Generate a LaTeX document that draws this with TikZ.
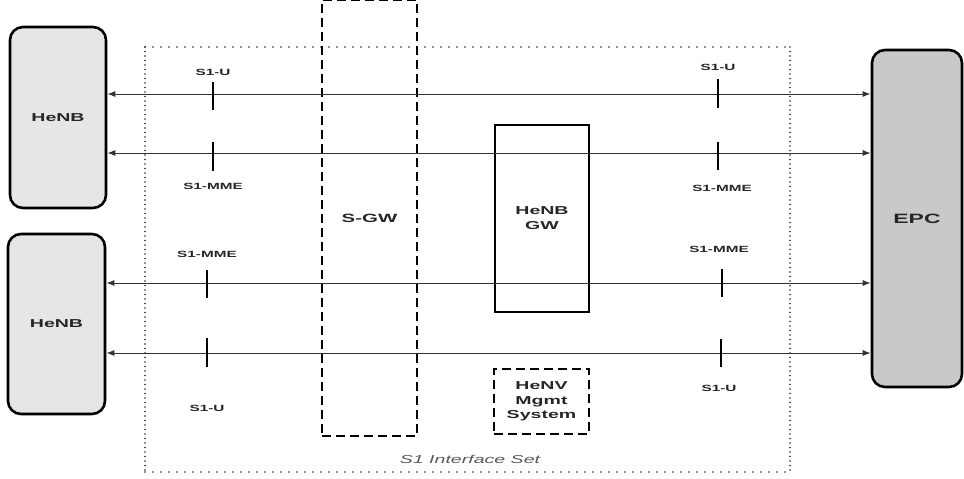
\documentclass[tikz,border=0pt]{standalone}
\usepackage{fontspec}
\setmainfont[FakeStretch=1.7]{Liberation Sans}
\usetikzlibrary{arrows.meta}
\definecolor{boxfillA}{HTML}{E6E6E6}
\definecolor{boxfillB}{HTML}{C9C9C9}
\definecolor{linegray}{HTML}{333333}
\begin{document}
\begin{tikzpicture}[x=1pt,y=-1pt,
  endbox/.style={draw=black,line width=2.6pt,rounded corners=13pt,inner sep=0pt,font=\fontsize{11.5}{12}\selectfont\bfseries,text=black!85},
  dashbox/.style={draw=black,line width=1.8pt,dash pattern=on 9pt off 5pt,inner sep=0pt,align=center,text=black!85},
  solidbox/.style={draw=black,line width=1.4pt,inner sep=0pt,align=center,text=black!85},
  link/.style={draw=linegray,line width=1pt,{Latex[length=8pt,width=6pt]}-{Latex[length=8pt,width=6pt]}},
  tick/.style={draw=black,line width=1.2pt},
  lbl/.style={font=\fontsize{9}{10}\selectfont\bfseries,inner sep=0pt,text=black!85},
  dotline/.style={black!85,line width=1.8pt,line cap=round}
]
\useasboundingbox (0,0) rectangle (964,479);
% dotted interface set
\coordinate (s1nw) at (145,47);
\coordinate (s1se) at (790,472);
\draw[dotline,dash pattern=on 0pt off 8pt] (s1nw) -- (s1nw -| s1se);
\draw[dotline,dash pattern=on 0pt off 8pt] (s1nw |- s1se) -- (s1se);
\draw[dotline,dash pattern=on 0pt off 4.5pt] (s1nw) -- (s1nw |- s1se);
\draw[dotline,dash pattern=on 0pt off 4.5pt] (s1nw -| s1se) -- (s1se);
\node[font=\fontsize{11.5}{12}\selectfont\itshape,text=black!65] (s1txt) at (470,459) {S1 Interface Set};

% end boxes
\node[endbox,fill=boxfillA,minimum width=96pt,minimum height=181pt] (henb1) at (58,117.5) {HeNB};
\node[endbox,fill=boxfillA,minimum width=97pt,minimum height=180pt] (henb2) at (56.5,324) {HeNB};
\node[endbox,fill=boxfillB,minimum width=90pt,minimum height=337pt,font=\fontsize{13.5}{16}\selectfont\bfseries] (epc) at (917,218.5) {EPC};

% middle boxes
\node[dashbox,minimum width=95pt,minimum height=436pt,font=\fontsize{12}{15}\selectfont\bfseries] (sgw) at (369.5,218) {S-GW};
\node[solidbox,minimum width=94pt,minimum height=187pt,font=\fontsize{11.5}{15}\selectfont\bfseries] (hgw) at (542,218.5) {HeNB\\GW};
\node[dashbox,minimum width=95pt,minimum height=65pt,font=\fontsize{11.5}{14.5}\selectfont\bfseries] (mgmt) at (541.5,401.5) {HeNV\\Mgmt\\System};

% links
\coordinate (y1) at (0,94);
\coordinate (y2) at (0,153);
\coordinate (y3) at (0,283);
\coordinate (y4) at (0,353);
\draw[link] (henb1.east |- y1) -- (epc.west |- y1);
\draw[link] (henb1.east |- y2) -- (epc.west |- y2);
\draw[link] (henb2.east |- y3) -- (epc.west |- y3);
\draw[link] (henb2.east |- y4) -- (epc.west |- y4);

% ticks left
\draw[tick] (213,82) -- (213,110);
\draw[tick] (213,142) -- (213,171);
\draw[tick] (207,270) -- (207,298);
\draw[tick] (207,338) -- (207,367);
% ticks right
\draw[tick] (718,79) -- (718,108);
\draw[tick] (718,142) -- (718,170);
\draw[tick] (722,269) -- (722,297);
\draw[tick] (721,339) -- (721,367);

% labels
\node[lbl] (l1) at (213,72) {S1-U};
\node[lbl] (l2) at (213,186) {S1-MME};
\node[lbl] (l3) at (207,254) {S1-MME};
\node[lbl] (l4) at (207,408) {S1-U};
\node[lbl] (r1) at (718,67) {S1-U};
\node[lbl] (r2) at (722,188) {S1-MME};
\node[lbl] (r3) at (719,249) {S1-MME};
\node[lbl] (r4) at (719,388) {S1-U};
\end{tikzpicture}
\end{document}
